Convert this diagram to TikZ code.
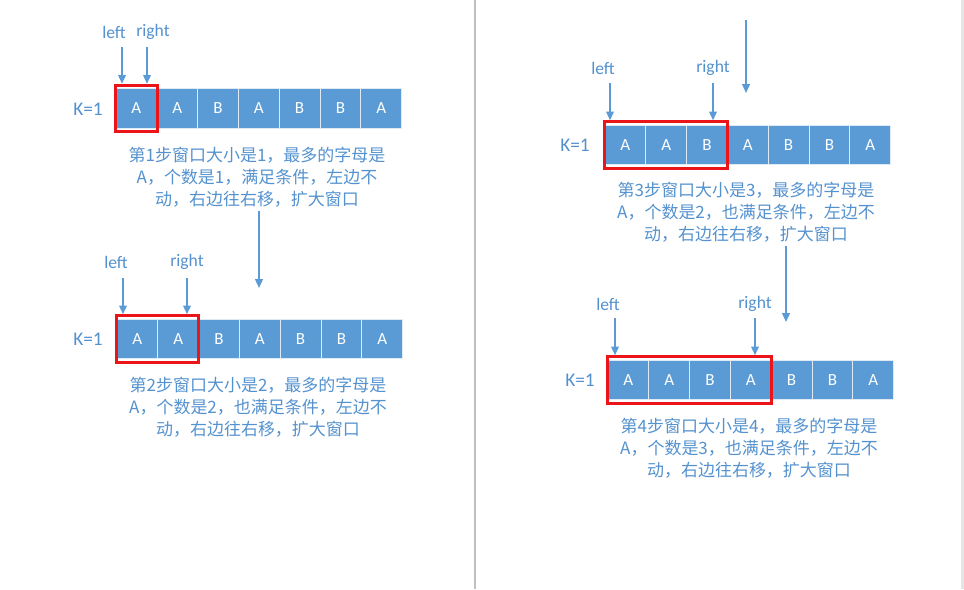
\documentclass[tikz,border=0pt]{standalone}
\usepackage{fontspec}
\setmainfont{Carlito}
\newfontfamily\cjk{Noto Sans CJK SC}
\usetikzlibrary{arrows.meta,fit}
\definecolor{cellblue}{RGB}{91,155,213}
\definecolor{textblue}{RGB}{84,146,207}
\definecolor{winred}{RGB}{235,20,25}

\begin{document}
\begin{tikzpicture}[x=0.03cm, y=-0.03cm,
    every node/.style={font=\fontsize{15}{18}\selectfont, text=textblue},
    cell/.style={draw=white!80!cellblue, line width=0.6pt, fill=cellblue, text=white,
      minimum width=1.224cm, minimum height=1.19cm, inner sep=0pt, font=\fontsize{14.5}{17}\selectfont},
    kval/.style={font=\fontsize{16.5}{19}\selectfont},
    win/.style={draw=winred, line width=2.6pt, inner xsep=0pt, inner ysep=0.09cm},
    arr/.style={draw=cellblue, line width=1.5pt, -{Triangle[width=6.5pt,length=7.5pt]}},
    note/.style={align=center, font=\cjk\fontsize{14.5}{18.7}\selectfont}]
    \useasboundingbox (0,0) rectangle (964,589);
    \fill[white] (0,0) rectangle (964,589);
    \draw[gray!50, line width=1.2pt] (475,0) -- (475,589);
    \fill[gray!20] (961,0) rectangle (964,589);

    % step 1
    \foreach \ch [count=\i] in {A,A,B,A,B,B,A}
        \node[cell] (a\i) at ({116+40.8*(\i-0.5)},108.5) {\ch};
    \node[kval] (k1) at (88,109) {K=1};
    \node[win, fit=(a1)] (w1) {};
    \node (l1) at (114,32) {left};
    \node (r1) at (153,32) {right};
    \coordinate (la1) at (122,47);
    \coordinate (ra1) at (147,47);
    \draw[arr] (la1) -- (la1 |- w1.north);
    \draw[arr] (ra1) -- (ra1 |- w1.north);
    \node[note] (t1) at (257,177) {第1步窗口大小是1，最多的字母是\\A，个数是1，满足条件，左边不\\动，右边往右移，扩大窗口};
    \coordinate (s1) at (259,288);
    \draw[arr] (t1.south -| s1) -- (s1);

    % step 2
    \foreach \ch [count=\i] in {A,A,B,A,B,B,A}
        \node[cell] (b\i) at ({117+40.8*(\i-0.5)},339) {\ch};
    \node[kval] (k2) at (88,339) {K=1};
    \node[win, fit=(b1)(b2)] (w2) {};
    \node (l2) at (116,262) {left};
    \node (r2) at (187,262) {right};
    \coordinate (la2) at (123,278);
    \coordinate (ra2) at (187,278);
    \draw[arr] (la2) -- (la2 |- w2.north);
    \draw[arr] (ra2) -- (ra2 |- w2.north);
    \node[note] (t2) at (258,407) {第2步窗口大小是2，最多的字母是\\A，个数是2，也满足条件，左边不\\动，右边往右移，扩大窗口};

    % step 3
    \coordinate (s2a) at (746,20);
    \coordinate (s2b) at (746,93);
    \draw[arr] (s2a) -- (s2b);
    \foreach \ch [count=\i] in {A,A,B,A,B,B,A}
        \node[cell] (c\i) at ({605+40.8*(\i-0.5)},145) {\ch};
    \node[kval] (k3) at (575,145) {K=1};
    \node[win, fit=(c1)(c3)] (w3) {};
    \node (l3) at (603,68) {left};
    \node (r3) at (713,68) {right};
    \coordinate (la3) at (610,83);
    \coordinate (ra3) at (713,83);
    \draw[arr] (la3) -- (la3 |- w3.north);
    \draw[arr] (ra3) -- (ra3 |- w3.north);
    \node[note] (t3) at (746,212) {第3步窗口大小是3，最多的字母是\\A，个数是2，也满足条件，左边不\\动，右边往右移，扩大窗口};
    \coordinate (s3) at (786,322);
    \draw[arr] (t3.south -| s3) -- (s3);

    % step 4
    \foreach \ch [count=\i] in {A,A,B,A,B,B,A}
        \node[cell] (d\i) at ({608+40.8*(\i-0.5)},380) {\ch};
    \node[kval] (k4) at (580,380) {K=1};
    \node[win, fit=(d1)(d4)] (w4) {};
    \node (l4) at (608,304) {left};
    \node (r4) at (755,304) {right};
    \coordinate (la4) at (615,318);
    \coordinate (ra4) at (755,318);
    \draw[arr] (la4) -- (la4 |- w4.north);
    \draw[arr] (ra4) -- (ra4 |- w4.north);
    \node[note] (t4) at (749,448) {第4步窗口大小是4，最多的字母是\\A，个数是3，也满足条件，左边不\\动，右边往右移，扩大窗口};
\end{tikzpicture}
\end{document}
